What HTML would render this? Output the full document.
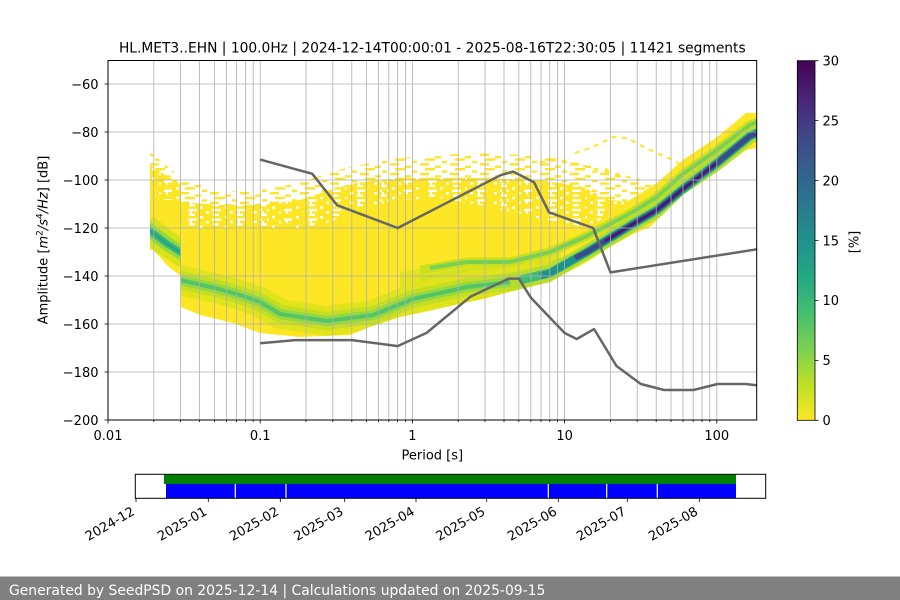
<!DOCTYPE html>
<html><head><meta charset="utf-8"><style>
html,body{margin:0;padding:0;background:#fff;}
svg{display:block;font-family:"DejaVu Sans","Liberation Sans",sans-serif;}
</style></head><body>
<svg width="900" height="600" viewBox="0 0 900 600" xmlns="http://www.w3.org/2000/svg">
<defs>
<clipPath id="ax"><rect x="108" y="60.5" width="648.7" height="359.5"/></clipPath>
<clipPath id="env"><polygon points="150,180 157,180 157,200 181,200 181,228 300,228 330,222 360,208 400,200 440,198 480,205 520,215 560,222 590,228 610,212 633,198 657,183 683,160 717,137 733,124 746,113 757,113 757,148 746,150 717,172 683,195 650,227 633,234 610,247 587,262 550,282 517,290 483,299 450,306 433,310 400,317 367,328 350,335 300,337 260,333 233,323 200,315 181,307 181,276 177,273 170,268 165,263 160,257 153,250 150,250"/></clipPath>
<clipPath id="leftc"><rect x="150" y="150" width="31" height="130"/></clipPath>
<clipPath id="midc"><rect x="181" y="150" width="380" height="200"/></clipPath>
<pattern id="sp" width="30" height="9.6" patternUnits="userSpaceOnUse" x="0" y="0">
<rect x="0" y="0" width="9" height="2.4" fill="#fde725"/><rect x="15" y="2.4" width="6" height="2.4" fill="#fde725"/><rect x="5" y="4.8" width="10" height="2.4" fill="#fde725"/><rect x="22" y="7.2" width="5" height="2.4" fill="#fde725"/>
</pattern>
<pattern id="dp" width="24" height="9.6" patternUnits="userSpaceOnUse" x="0" y="0">
<rect x="0" y="0" width="14" height="2.4" fill="#fde725"/><rect x="17" y="0" width="5" height="2.4" fill="#fde725"/><rect x="3" y="2.4" width="18" height="2.4" fill="#fde725"/><rect x="0" y="4.8" width="8" height="2.4" fill="#fde725"/><rect x="11" y="4.8" width="13" height="2.4" fill="#fde725"/><rect x="5" y="7.2" width="15" height="2.4" fill="#fde725"/>
</pattern>
<linearGradient id="vir" x1="0" y1="0" x2="0" y2="1">
<stop offset="0" stop-color="#440154"/><stop offset="0.1" stop-color="#482475"/><stop offset="0.2" stop-color="#414487"/><stop offset="0.3" stop-color="#355f8d"/><stop offset="0.4" stop-color="#2a788e"/><stop offset="0.5" stop-color="#21918c"/><stop offset="0.6" stop-color="#22a884"/><stop offset="0.7" stop-color="#44bf70"/><stop offset="0.8" stop-color="#7ad151"/><stop offset="0.9" stop-color="#bddf26"/><stop offset="1" stop-color="#fde725"/>
</linearGradient>
</defs>

<!-- title -->
<text x="432.3" y="52.3" font-size="13.8" text-anchor="middle" fill="#000">HL.MET3..EHN | 100.0Hz | 2024-12-14T00:00:01 - 2025-08-16T22:30:05 | 11421 segments</text>

<!-- histogram -->
<g clip-path="url(#ax)">
<polygon points="150,152 160,160 181,178 220,192 260,190 300,183 330,172 360,165 400,158 440,155 480,153 520,155 560,158 600,165 630,180 657,186 657,200 610,225 600,230 150,230" fill="url(#sp)"/>
<polygon points="150,165 181,185 181,202 220,205 260,205 300,200 330,190 360,182 400,178 480,178 540,180 580,186 610,200 640,202 640,210 610,225 600,230 150,230" fill="url(#dp)"/>
<polyline points="575,153 593,147 613,137 627,138 650,150 673,160 690,170 705,178" fill="none" stroke="#fde725" stroke-width="2" stroke-dasharray="5 5"/>
<polyline points="540,162 560,160 580,165 600,170 620,175 640,180" fill="none" stroke="#fde725" stroke-width="2" stroke-dasharray="5 6"/>
<polygon points="150,180 157,180 157,200 181,200 181,228 300,228 330,222 360,208 400,200 440,198 480,205 520,215 560,222 590,228 610,212 633,198 657,183 683,160 717,137 733,124 746,113 757,113 757,148 746,150 717,172 683,195 650,227 633,234 610,247 587,262 550,282 517,290 483,299 450,306 433,310 400,317 367,328 350,335 300,337 260,333 233,323 200,315 181,307 181,276 177,273 170,268 165,263 160,257 153,250 150,250" fill="#fde725"/>
<g clip-path="url(#env)" fill="none" stroke-linejoin="round" stroke-linecap="butt">
 <!-- broad light zone -->
 <polygon points="400,272 467,262 510,261 555,250 560,282 510,292 467,300 400,312" fill="#e3e41b" stroke="none"/>
 <polygon points="420,276 467,268 510,266 550,258 552,276 510,286 467,292 420,300" fill="#d2e21b" stroke="none"/>
 <!-- middle band -->
 <g clip-path="url(#midc)">
 <path d="M175,279 L215,288 L240,295 L260,302 L280,314 L327,321 L373,315 L413,299 L467,287 L510,282 L550,273 L587,252" stroke="#e2e41b" stroke-width="30"/>
 <path d="M175,279 L215,288 L240,295 L260,302 L280,314 L327,321 L373,315 L413,299 L467,287 L510,282 L550,273 L587,252" stroke="#c4df22" stroke-width="18"/>
 <path d="M175,279 L215,288 L240,295 L260,302 L280,314 L327,321 L373,315 L413,299 L467,287 L510,282 L550,273 L587,252" stroke="#95d840" stroke-width="10"/>
 <path d="M175,279 L215,288 L240,295 L260,302 L280,314 L327,321 L373,315 L413,299 L467,287 L510,282 L550,273 L587,252" stroke="#52c569" stroke-width="4"/>
 </g>
 <!-- upper stripe -->
 <path d="M420,270 L467,262 L510,262 L550,252 L587,236 L633,212 L657,197 L683,174 L717,150 L750,125 L762,120" stroke="#c8e020" stroke-width="9"/>
 <path d="M430,268 L467,262 L510,262 L550,252 L587,236 L633,212 L657,197 L683,174 L717,150 L750,125 L762,120" stroke="#7ad151" stroke-width="4"/>
 <!-- lower right band -->
 <path d="M510,282 L550,273 L587,252 L610,238 L633,224 L657,210 L683,189 L717,163 L750,136 L762,131" stroke="#b5de2b" stroke-width="15"/>
 <path d="M520,280 L550,273 L587,252 L610,238 L633,224 L657,210 L683,189 L717,163 L750,136 L762,131" stroke="#3fbc73" stroke-width="9"/>
 <path d="M540,276 L550,273 L587,252 L610,238 L633,224 L657,210 L683,189 L717,163 L750,136 L762,131" stroke="#21918c" stroke-width="7"/>
 <path d="M575,258 L587,252 L610,238 L633,224 L657,210 L683,189 L717,163 L750,136 L762,131" stroke="#3b4a89" stroke-width="5"/>
 <path d="M605,241 L633,224 L657,210 L683,189 L717,163" stroke="#46186e" stroke-width="2.5"/>
 <!-- left band -->
 <g clip-path="url(#leftc)">
  <path d="M145,227 L166,243 L186,256" stroke="#d6e21a" stroke-width="26"/>
  <path d="M145,227 L166,243 L186,256" stroke="#95d840" stroke-width="14"/>
  <path d="M145,227 L166,243 L186,256" stroke="#3cb977" stroke-width="7"/>
  <path d="M145,227 L166,243 L186,256" stroke="#25a784" stroke-width="3"/>
 </g>
</g>
</g>

<!-- grid -->
<g stroke="#b0b0b0" stroke-width="0.8">
<path d="M153.8,60.5V420M180.6,60.5V420M199.6,60.5V420M214.4,60.5V420M226.4,60.5V420M236.6,60.5V420M245.4,60.5V420M253.2,60.5V420M260.2,60.5V420M306,60.5V420M332.8,60.5V420M351.8,60.5V420M366.6,60.5V420M378.6,60.5V420M388.8,60.5V420M397.6,60.5V420M405.4,60.5V420M412.4,60.5V420M458.2,60.5V420M485,60.5V420M504,60.5V420M518.8,60.5V420M530.8,60.5V420M541,60.5V420M549.8,60.5V420M557.6,60.5V420M564.6,60.5V420M610.4,60.5V420M637.2,60.5V420M656.2,60.5V420M671,60.5V420M683,60.5V420M693.2,60.5V420M702,60.5V420M709.8,60.5V420M716.8,60.5V420"/>
<path d="M108,84H756.7M108,132H756.7M108,180H756.7M108,228H756.7M108,276H756.7M108,324H756.7M108,372H756.7"/>
</g>

<!-- noise models -->
<g clip-path="url(#ax)" fill="none" stroke="#666666" stroke-width="2.5" stroke-linejoin="round">
<polyline points="260.2,159.6 312.3,173.8 337.1,205.2 397.7,228 500.6,175.2 513.3,171.6 534.1,182.4 549.1,212.4 593.2,228 610.5,272.4 756.7,249.3"/>
<polyline points="260.2,343.2 295.3,340.1 351.8,340.1 397.7,346.1 426.6,332.9 470.3,296.8 508.8,278.6 518.8,278.6 530.8,297.6 564.6,333 576.7,339 594.1,329.1 616.5,366 640.8,384 664.2,390 693.4,390 717.6,384 745.5,384 756.7,385.3"/>
</g>

<!-- axes frame -->
<rect x="108" y="60.5" width="648.7" height="359.5" fill="none" stroke="#000" stroke-width="1"/>
<g stroke="#000" stroke-width="0.8">
<path d="M104.5,84H108M104.5,132H108M104.5,180H108M104.5,228H108M104.5,276H108M104.5,324H108M104.5,372H108M104.5,420H108"/>
<path d="M108,420V423.5M260.2,420V423.5M412.4,420V423.5M564.6,420V423.5M716.8,420V423.5"/>
<path d="M153.8,420V422M180.6,420V422M199.6,420V422M214.4,420V422M226.4,420V422M236.6,420V422M245.4,420V422M253.2,420V422M306,420V422M332.8,420V422M351.8,420V422M366.6,420V422M378.6,420V422M388.8,420V422M397.6,420V422M405.4,420V422M458.2,420V422M485,420V422M504,420V422M518.8,420V422M530.8,420V422M541,420V422M549.8,420V422M557.6,420V422M610.4,420V422M637.2,420V422M656.2,420V422M671,420V422M683,420V422M693.2,420V422M702,420V422M709.8,420V422"/>
</g>
<g font-size="13" fill="#000" text-anchor="end">
<text x="98.5" y="89">−60</text><text x="98.5" y="137">−80</text><text x="98.5" y="185">−100</text><text x="98.5" y="233">−120</text><text x="98.5" y="281">−140</text><text x="98.5" y="329">−160</text><text x="98.5" y="377">−180</text><text x="98.5" y="425">−200</text>
</g>
<g font-size="13" fill="#000" text-anchor="middle">
<text x="108" y="440">0.01</text><text x="260.2" y="440">0.1</text><text x="412.4" y="440">1</text><text x="564.6" y="440">10</text><text x="716.8" y="440">100</text>
<text x="432.3" y="459.5">Period [s]</text>
</g>
<text transform="translate(47.5,240) rotate(-90)" font-size="13" text-anchor="middle" fill="#000">Amplitude [<tspan font-style="italic">m</tspan><tspan font-size="9" dy="-5">2</tspan><tspan font-style="italic" dy="5">/s</tspan><tspan font-size="9" dy="-5">4</tspan><tspan font-style="italic" dy="5">/Hz</tspan>] [dB]</text>

<!-- colorbar -->
<rect x="797.3" y="60.7" width="17.7" height="359.6" fill="url(#vir)" stroke="#000" stroke-width="0.8"/>
<g stroke="#000" stroke-width="0.8"><path d="M815,60.7H818.5M815,120.6H818.5M815,180.6H818.5M815,240.5H818.5M815,300.4H818.5M815,360.4H818.5M815,420.3H818.5"/></g>
<g font-size="13" fill="#000">
<text x="822.5" y="65.5">30</text><text x="822.5" y="125.4">25</text><text x="822.5" y="185.4">20</text><text x="822.5" y="245.3">15</text><text x="822.5" y="305.2">10</text><text x="822.5" y="365.2">5</text><text x="822.5" y="425.1">0</text>
</g>
<text transform="translate(858.5,242) rotate(-90)" font-size="13" text-anchor="middle" fill="#000">[%]</text>

<!-- timeline -->
<rect x="164" y="474.3" width="572" height="9.7" fill="#008000"/>
<rect x="166" y="484" width="570" height="14.3" fill="#0000ff"/>
<g stroke="#fff" stroke-width="1.2"><path d="M235.3,484V498.3M286,484V498.3M548.3,484V498.3M606.7,484V498.3M657.3,484V498.3"/></g>
<rect x="135.3" y="474.3" width="630.4" height="24" fill="none" stroke="#000" stroke-width="1"/>
<g stroke="#000" stroke-width="0.8"><path d="M136,498.3V502M208.3,498.3V502M280.3,498.3V502M344.7,498.3V502M416,498.3V502M486.7,498.3V502M558.3,498.3V502M627.3,498.3V502M699.3,498.3V502"/></g>
<g font-size="13" fill="#000" text-anchor="end">
<text transform="translate(135.5,514) rotate(-30)">2024-12</text>
<text transform="translate(207.8,514) rotate(-30)">2025-01</text>
<text transform="translate(279.8,514) rotate(-30)">2025-02</text>
<text transform="translate(344.2,514) rotate(-30)">2025-03</text>
<text transform="translate(415.5,514) rotate(-30)">2025-04</text>
<text transform="translate(486.2,514) rotate(-30)">2025-05</text>
<text transform="translate(557.8,514) rotate(-30)">2025-06</text>
<text transform="translate(626.8,514) rotate(-30)">2025-07</text>
<text transform="translate(698.8,514) rotate(-30)">2025-08</text>
</g>

<!-- footer -->
<rect x="0" y="576.5" width="900" height="23.5" fill="#808080"/>
<text x="9" y="595" font-size="13.9" fill="#ffffff">Generated by SeedPSD on 2025-12-14 | Calculations updated on 2025-09-15</text>
</svg>
</body></html>
